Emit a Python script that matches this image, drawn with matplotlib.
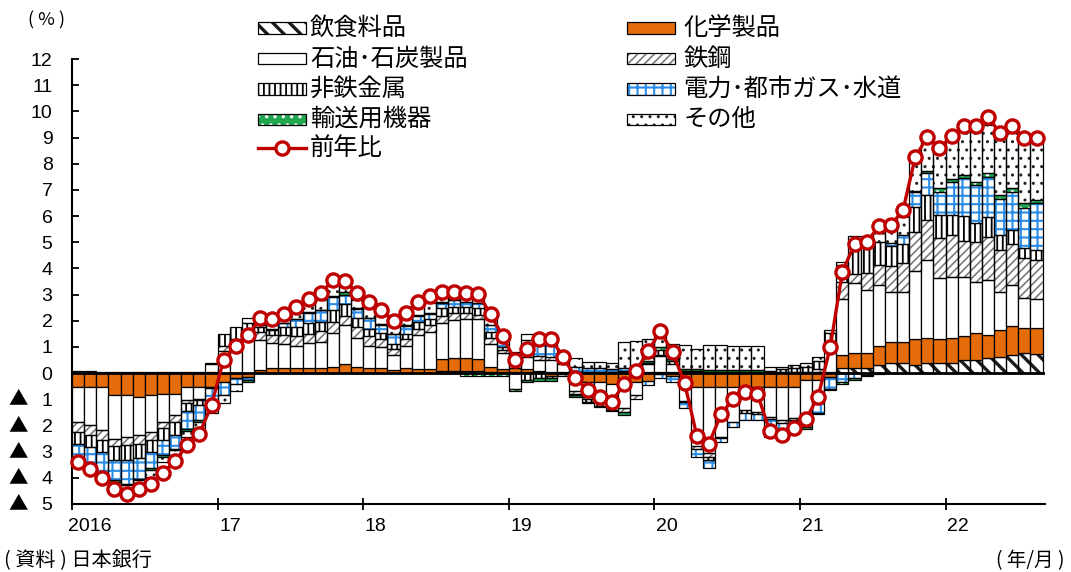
import matplotlib
matplotlib.use('Agg')
import matplotlib.pyplot as plt
import numpy as np
from matplotlib.patches import Rectangle
from matplotlib.lines import Line2D
from matplotlib import font_manager

plt.rcParams['font.family'] = ['Noto Sans CJK JP', 'DejaVu Sans']
plt.rcParams['hatch.linewidth'] = 1.2

_names = {f.name for f in font_manager.fontManager.ttflist}
NUMFONT = ['Liberation Sans Narrow', 'Noto Sans CJK JP'] if 'Liberation Sans Narrow' in _names else ['Liberation Sans', 'Noto Sans CJK JP']

# ---------------- data ----------------
year_labels = ['2016', '17', '18', '19', '20', '21', '22']
categories = ['飲食料品', '化学製品', '石油･石炭製品', '鉄鋼', '非鉄金属',
              '電力･都市ガス･水道', '輸送用機器', 'その他']
line_label = '前年比'

food = [0.08, 0.08, 0.05, 0.03, 0.03, 0.03, 0.03, 0.03, 0.03, 0.03, 0.05, 0.05,
        0, 0, 0, 0, 0, 0, 0, 0, 0, 0, 0, 0,
        0, 0, 0, 0, 0, 0, 0.08, 0.08, 0.08, 0.08, 0.05, 0.05,
        0.05, 0.05, 0.05, 0.05, 0.05, 0.05, 0.05, 0.05, 0.05, 0.05, 0.05, 0.05,
        0.05, 0.05, 0.05, 0.05, 0.05, 0.05, 0.05, 0.05, 0.05, 0.05, 0.05, 0.05,
        0.05, 0.05, 0.05, 0.18, 0.18, 0.18, 0.3, 0.37, 0.37, 0.3, 0.37, 0.37,
        0.37, 0.5, 0.5, 0.56, 0.62, 0.69, 0.78, 0.73]
chem = [-0.52, -0.52, -0.52, -0.84, -0.84, -0.9, -0.84, -0.78, -0.78, -0.52, -0.52, -0.52,
        -0.35, -0.2, -0.15, 0.12, 0.2, 0.2, 0.2, 0.2, 0.2, 0.25, 0.35, 0.25,
        0.2, 0.2, 0.13, 0.2, 0.15, 0.17, 0.45, 0.5, 0.5, 0.45, 0.18, 0.1,
        0.15, 0.1, 0.05, -0.1, -0.05, -0.3, -0.35, -0.35, -0.4, -0.4, -0.35, -0.3,
        -0.05, -0.1, -0.35, -0.52, -0.52, -0.52, -0.52, -0.52, -0.52, -0.52, -0.52, -0.52,
        -0.27, -0.27, -0.15, 0.5, 0.59, 0.6, 0.73, 0.83, 0.83, 1.02, 0.96, 0.92,
        0.98, 0.92, 1.02, 0.89, 1.04, 1.12, 0.96, 0.98]
petro = [-1.34, -1.47, -1.66, -1.66, -1.59, -1.47, -1.40, -1.08, -0.82, -0.51, -0.45, 0.3,
         0.85, 1.05, 1.3, 1.15, 0.95, 0.9, 0.85, 0.95, 1.0, 1.3, 1.5, 1.1,
         0.85, 0.8, 0.55, 0.85, 1.3, 1.4, 1.4, 1.45, 1.5, 1.55, 0.9, 0.6,
         -0.6, 0.45, 0.4, 0.45, 0.3, -0.4, -0.55, -0.65, -0.75, -0.95, -0.5, 0.3,
         0.6, 0.3, -0.7, -2.28, -2.55, -1.91, -1.34, -0.89, -0.96, -1.15, -1.28, -1.21,
         -1.3, -0.8, 0.8, 2.17, 2.66, 2.4, 2.33, 1.9, 1.91, 2.6, 2.99, 2.33,
         2.33, 2.27, 1.97, 2.1, 1.44, 1.55, 1.12, 1.12]
steel = [-0.38, -0.38, -0.38, -0.29, -0.32, -0.32, -0.32, -0.25, -0.26, -0.1, -0.05, 0.05,
         0.2, 0.25, 0.3, 0.3, 0.3, 0.35, 0.35, 0.35, 0.4, 0.4, 0.35, 0.4,
         0.35, 0.3, 0.25, 0.25, 0.25, 0.25, 0.25, 0.25, 0.2, 0.15, 0.2, 0.15,
         0.15, 0.2, 0.15, 0.1, -0.05, -0.1, -0.1, -0.12, -0.12, -0.15, -0.15, 0.0,
         0.05, 0.0, -0.05, -0.1, -0.15, -0.05, 0, 0, 0, -0.1, -0.1, -0.05,
         -0.05, 0.1, 0.2, 0.64, 0.36, 0.66, 0.76, 0.98, 1.08, 1.47, 1.53, 1.53,
         1.59, 1.34, 1.53, 1.66, 1.59, 1.59, 1.53, 1.49]
nonferrous = [-0.47, -0.45, -0.44, -0.53, -0.57, -0.57, -0.44, -0.45, -0.51, -0.3, -0.19, -0.05,
              0.45, 0.45, 0.3, 0.2, 0.2, 0.3, 0.35, 0.4, 0.35, 0.45, 0.45, 0.35,
              0.3, 0.25, 0.2, 0.2, 0.25, 0.25, 0.3, 0.25, 0.25, 0.25, 0.25, 0.1,
              0.1, -0.25, -0.2, -0.1, 0.0, -0.05, -0.1, -0.12, -0.12, 0.05, 0.05, 0.05,
              0.2, 0.1, 0.05, 0.02, -0.1, 0, 0, -0.1, -0.1, 0.05, 0.1, 0.15,
              0.2, 0.3, 0.5, 0.64, 1.0, 1.1, 0.9, 0.76, 0.76, 0.96, 0.96, 0.89,
              0.76, 0.96, 0.7, 0.76, 0.57, 0.51, 0.38, 0.38]
utility = [-0.61, -0.68, -0.83, -0.77, -0.9, -0.77, -0.64, -0.57, -0.51, -0.7, -0.57, -0.7,
           -0.5, -0.2, -0.13, 0.05, 0.05, 0.15, 0.3, 0.4, 0.45, 0.5, 0.35, 0.35,
           0.4, 0.3, 0.35, 0.3, 0.25, 0.2, 0.2, 0.25, 0.2, 0.2, 0.25, 0.25,
           0.2, 0.45, 0.5, 0.5, 0.2, 0.2, 0.15, 0.13, 0.1, 0.1, 0.05, -0.15,
           -0.15, -0.23, -0.25, -0.3, -0.32, -0.14, -0.19, -0.29, -0.22, -0.55, -0.55, -0.45,
           -0.45, -0.45, -0.45, -0.35, -0.2, -0.07, -0.05, 0.13, 0.32, 0.57, 0.83, 0.89,
           1.27, 1.46, 1.46, 1.53, 1.4, 1.46, 1.53, 1.78]
transport = [-0.03, -0.04, -0.05, -0.06, -0.05, -0.07, -0.06, -0.07, -0.06, -0.09, -0.07, -0.05,
             0, 0, -0.05, 0, 0, 0.02, 0.03, 0.03, 0.03, 0.05, 0.1, 0.05,
             0.02, 0.02, 0.02, 0.02, 0.02, 0.02, 0.02, 0.02, -0.1, -0.1, -0.1, -0.1,
             -0.1, -0.1, -0.1, -0.1, 0, -0.05, -0.06, -0.06, -0.06, -0.1, 0.08, 0.07,
             0.1, 0.08, 0.07, 0.07, 0.07, 0.07, 0.06, 0.06, 0.06, -0.11, -0.11, -0.07,
             -0.06, -0.05, -0.05, -0.05, -0.05, -0.03, 0, 0, 0, 0.02, 0.09, 0.13,
             0.13, 0.13, 0.13, 0.13, 0.13, 0.17, 0.19, 0.13]
other = [-0.05, -0.1, -0.1, -0.1, -0.1, -0.1, -0.26, -0.19, -0.19, -0.23, -0.26, -0.21,
         -0.3, -0.3, 0.19, 0.18, 0.15, 0.23, 0.22, 0.32, 0.42, 0.4, 0.2, 0.3,
         0.5, 0.45, 0.37, 0.35, 0.35, 0.38, 0.32, 0.22, 0.22, 0.17, 0.27, 0.2,
         0.17, 0.24, 0.17, 0.29, 0.2, 0.31, 0.23, 0.25, 0.22, 1.0, 1.0, 0.85,
         0.7, 0.6, 0.9, 0.8, 0.95, 0.95, 0.92, 0.92, 0.92, 0.14, 0.09, 0.1,
         0.12, 0.17, 0.09, 0.12, 0.45, 0.01, 0.38, 0.57, 0.9, 1.27, 1.19, 1.47,
         1.59, 1.66, 1.91, 1.85, 2.23, 2.13, 2.36, 2.23]
yoy = [-3.39, -3.67, -3.99, -4.41, -4.6, -4.42, -4.22, -3.82, -3.35, -2.75, -2.32, -1.22,
       0.52, 1.03, 1.45, 2.09, 2.05, 2.24, 2.53, 2.82, 3.05, 3.55, 3.53, 3.05,
       2.70, 2.43, 2.0, 2.28, 2.73, 2.95, 3.11, 3.11, 3.05, 3.02, 2.25, 1.41,
       0.5, 0.92, 1.29, 1.29, 0.62, -0.18, -0.65, -0.9, -1.1, -0.42, 0.08, 0.85,
       1.6, 0.8, -0.39, -2.39, -2.69, -1.58, -0.97, -0.71, -0.8, -2.2, -2.37, -2.11,
       -1.76, -0.9, 1.0, 3.87, 4.93, 4.99, 5.62, 5.66, 6.23, 8.24, 9.03, 8.59,
       9.06, 9.44, 9.44, 9.8, 9.16, 9.44, 8.97, 8.97]

y_ticks = list(range(-5, 13))

# ---------------- styles ----------------
RED = '#C00000'
styles = [
    dict(face='white', hatch='\\\\', hc='#1a1a1a', hlw=2.4),
    dict(face='#E46C0A', hatch=None, hc=None, hlw=1.2),
    dict(face='white', hatch=None, hc=None, hlw=1.2),
    dict(face='white', hatch='////', hc='#7a7a7a', hlw=1.2),
    dict(face='white', hatch='|||', hc='black', hlw=1.3),
    dict(face='white', hatch='++', hc='#2A8CE6', hlw=1.5),
    dict(face='#1FA84F', hatch='..', hc='white', hlw=1.2),
    dict(face='white', hatch='..', hc='#202020', hlw=1.0),
]
series = [food, chem, petro, steel, nonferrous, utility, transport, other]

W, H = 1071, 572
fig = plt.figure(figsize=(W / 100, H / 100), dpi=100)
ax = fig.add_axes([72 / W, 1 - 504 / H, (1045 - 72) / W, (504 - 59) / H])

n = len(yoy)
x = np.arange(n) + 0.5
pos_base = np.zeros(n)
neg_base = np.zeros(n)
for vals, st in zip(series, styles):
    v = np.array(vals, dtype=float)
    base = np.where(v >= 0, pos_base, neg_base)
    m = v != 0
    if st['hatch']:
        with plt.rc_context({'hatch.linewidth': st['hlw']}):
            ax.bar(x[m], v[m], width=1.0, bottom=base[m], color=st['face'],
                   edgecolor=st['hc'], hatch=st['hatch'], linewidth=0, zorder=2)
        ax.bar(x[m], v[m], width=1.0, bottom=base[m], facecolor='none',
               edgecolor='black', linewidth=0.9, zorder=3)
    else:
        ax.bar(x[m], v[m], width=1.0, bottom=base[m], color=st['face'],
               edgecolor='black', linewidth=0.9, zorder=3)
    pos_base += np.where(v > 0, v, 0)
    neg_base += np.where(v < 0, v, 0)

ax.axhline(0, color='black', lw=2.0, zorder=4)
ax.plot(x, yoy, color=RED, lw=2.4, marker='o', ms=9.5, mfc='white', mec=RED,
        mew=2.4, zorder=6, clip_on=False)

ax.set_xlim(0, 80.2)
ax.set_ylim(-5, 12)
for s in ['top', 'right']:
    ax.spines[s].set_visible(False)
ax.spines['left'].set_linewidth(1.5)
ax.spines['bottom'].set_linewidth(1.5)

ax.set_yticks(y_ticks)
ax.set_yticklabels([str(abs(t)) for t in y_ticks], fontsize=14, family=NUMFONT)
ax.tick_params(axis='y', direction='in', length=5, width=1.3, pad=14)
for t in y_ticks:
    if t < 0:
        ax.text(18 / W, 1 - (373 + (-t) * 26.17) / H, '▲', transform=fig.transFigure,
                ha='center', va='center', fontsize=14)

ax.set_xticks(np.arange(0, 80, 12))
ax.set_xticklabels([])
ax.tick_params(axis='x', direction='inout', length=9, width=1.3)
for i, lab in enumerate(year_labels):
    xx = i * 12
    ax.text(xx + (-0.3 if i == 0 else 0.15), -5.55, lab, ha='left', va='top',
            fontsize=14, family=NUMFONT)

# ---------------- legend (manual) ----------------
def fx(px):
    return px / W

def fy(py):
    return 1 - py / H

col1 = [(0, 28), (2, 59), (4, 89), (6, 119)]
col2 = [(1, 28), (3, 59), (5, 89), (7, 119)]
for (idx, yc), sx, tx in [(c, 258, 310) for c in col1] + [(c, 627, 683) for c in col2]:
    st = styles[idx]
    w, h = 48, 11
    with plt.rc_context({'hatch.linewidth': st['hlw']}):
        r = Rectangle((fx(sx), fy(yc + h / 2)), w / W, h / H, transform=fig.transFigure,
                      facecolor=st['face'], edgecolor=st['hc'] if st['hatch'] else 'black',
                      hatch=st['hatch'], linewidth=0 if st['hatch'] else 0.9)
    fig.add_artist(r)
    if st['hatch']:
        fig.add_artist(Rectangle((fx(sx), fy(yc + h / 2)), w / W, h / H,
                                 transform=fig.transFigure, facecolor='none',
                                 edgecolor='black', linewidth=0.9))
    fig.text(fx(tx), fy(yc), categories[idx], ha='left', va='center', fontsize=17.5)

fig.add_artist(Line2D([fx(258), fx(306)], [fy(148), fy(148)], transform=fig.transFigure,
                      color=RED, lw=2.4))
fig.add_artist(Line2D([fx(282)], [fy(148)], transform=fig.transFigure, color=RED,
                      marker='o', ms=9.5, mfc='white', mec=RED, mew=2.4))
fig.text(fx(310), fy(148), line_label, ha='left', va='center', fontsize=17.5)

fig.text(fx(47), fy(20), '( % )', ha='center', va='center', fontsize=13)
fig.text(fx(4), fy(561), '( 資料 ) 日本銀行', ha='left', va='center', fontsize=14.5)
fig.text(fx(1064), fy(561), '( 年/月 )', ha='right', va='center', fontsize=14)

fig.savefig('out.png', dpi=100)
